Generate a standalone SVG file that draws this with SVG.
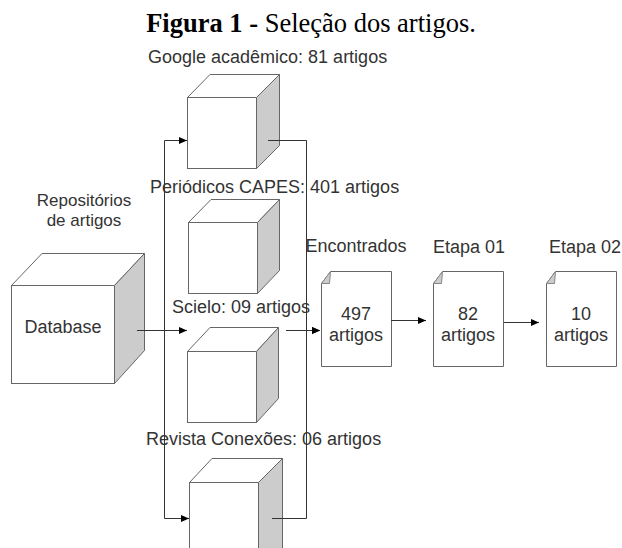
<svg xmlns="http://www.w3.org/2000/svg" width="622" height="548" viewBox="0 0 622 548">
<defs>
<marker id="arr" markerWidth="8" markerHeight="7" refX="8" refY="3.5" orient="auto" markerUnits="userSpaceOnUse"><path d="M0,0 L8,3.5 L0,7 Z" fill="#000"/></marker>
</defs>
<style>
.face{fill:#fff;stroke:#666;stroke-width:1}
.side{fill:#ccc;stroke:#666;stroke-width:1}
.lbl{font-family:"Liberation Sans",Arial,sans-serif;font-size:18px;fill:#333}
.conn{fill:none;stroke:#333;stroke-width:1}
.fold{fill:#ccc;stroke:#888;stroke-width:1}
</style>
<rect width="622" height="548" fill="#fff"/>
<text x="311" y="32" text-anchor="middle" font-family="'Liberation Serif','Times New Roman',serif" font-size="26.5" fill="#000"><tspan font-weight="bold">Figura 1 -</tspan> Seleção dos artigos.</text>

<g id="repositorios-label">
<text class="lbl" x="84" y="205.5" text-anchor="middle" style="font-size:17px">Repositórios</text>
<text class="lbl" x="84" y="225.5" text-anchor="middle" style="font-size:17px">de artigos</text>
</g>

<g id="database">
<rect class="face" x="11.5" y="285.5" width="103" height="98"/>
<polygon class="face" points="11.5,285.5 42,253.5 144.5,253.5 114.5,285.5"/>
<polygon class="side" points="114.5,285.5 144.5,253.5 144.5,350.5 114.5,383.5"/>
<text class="lbl" x="63" y="333" text-anchor="middle" fill="#222">Database</text>
</g>

<g id="google">
<text class="lbl" x="148" y="63">Google acadêmico: 81 artigos</text>
<rect class="face" x="187.5" y="97.5" width="69" height="71"/>
<polygon class="face" points="187.5,97.5 210,74.5 279.5,74.5 256.5,97.5"/>
<polygon class="side" points="256.5,97.5 279.5,74.5 279.5,145.5 256.5,168.5"/>
</g>

<g id="capes">
<text class="lbl" x="150" y="193">Periódicos CAPES: 401 artigos</text>
<rect class="face" x="188.5" y="222.5" width="69" height="71"/>
<polygon class="face" points="188.5,222.5 211,199.5 279.5,199.5 257.5,222.5"/>
<polygon class="side" points="257.5,222.5 279.5,199.5 279.5,270.5 257.5,293.5"/>
</g>

<g id="scielo">
<text class="lbl" x="172" y="313">Scielo: 09 artigos</text>
<rect class="face" x="187.5" y="351.5" width="69" height="71"/>
<polygon class="face" points="187.5,351.5 210,327.5 278.5,327.5 256.5,351.5"/>
<polygon class="side" points="256.5,351.5 278.5,327.5 278.5,398.5 256.5,422.5"/>
</g>

<g id="revista">
<text class="lbl" x="146" y="445">Revista Conexões: 06 artigos</text>
<rect class="face" x="189.5" y="482.5" width="69" height="95"/>
<polygon class="face" points="189.5,482.5 212,458.5 282.5,458.5 258.5,482.5"/>
<polygon class="side" points="258.5,482.5 282.5,458.5 282.5,555 258.5,578"/>
</g>

<g id="encontrados">
<text class="lbl" x="356" y="252" text-anchor="middle">Encontrados</text>
<path class="face" d="M330.5,271.5 L391.5,271.5 L391.5,366.5 L321.5,366.5 L321.5,283.5 Z"/>
<path class="fold" d="M321.5,283.5 L330.5,271.5 L329.5,283.5 Z"/>
<text class="lbl" x="356" y="320" text-anchor="middle" fill="#222">497</text>
<text class="lbl" x="356" y="341" text-anchor="middle" fill="#222">artigos</text>
</g>

<g id="etapa01">
<text class="lbl" x="469" y="253" text-anchor="middle">Etapa 01</text>
<path class="face" d="M442.5,271.5 L503.5,271.5 L503.5,366.5 L433.5,366.5 L433.5,283.5 Z"/>
<path class="fold" d="M433.5,283.5 L442.5,271.5 L441.5,283.5 Z"/>
<text class="lbl" x="468" y="320" text-anchor="middle" fill="#222">82</text>
<text class="lbl" x="468" y="341" text-anchor="middle" fill="#222">artigos</text>
</g>

<g id="etapa02">
<text class="lbl" x="585" y="253" text-anchor="middle">Etapa 02</text>
<path class="face" d="M555.5,271.5 L616.5,271.5 L616.5,366.5 L546.5,366.5 L546.5,283.5 Z"/>
<path class="fold" d="M546.5,283.5 L555.5,271.5 L554.5,283.5 Z"/>
<text class="lbl" x="581" y="320" text-anchor="middle" fill="#222">10</text>
<text class="lbl" x="581" y="341" text-anchor="middle" fill="#222">artigos</text>
</g>

<g id="connectors">
<path class="conn" d="M137,330.5 L187,330.5" marker-end="url(#arr)"/>
<path class="conn" d="M164.5,330.5 L164.5,140.5 L187,140.5" marker-end="url(#arr)"/>
<path class="conn" d="M164.5,330.5 L164.5,518.5 L189,518.5" marker-end="url(#arr)"/>
<path class="conn" d="M268,140.5 L306.5,140.5 L306.5,330.5 L320,330.5" marker-end="url(#arr)"/>
<path class="conn" d="M286,330.5 L320,330.5" marker-end="url(#arr)"/>
<path class="conn" d="M272,518.5 L306.5,518.5 L306.5,330.5"/>
<path class="conn" d="M391,320.5 L426,320.5" marker-end="url(#arr)"/>
<path class="conn" d="M504,322.5 L539,322.5" marker-end="url(#arr)"/>
</g>
</svg>
